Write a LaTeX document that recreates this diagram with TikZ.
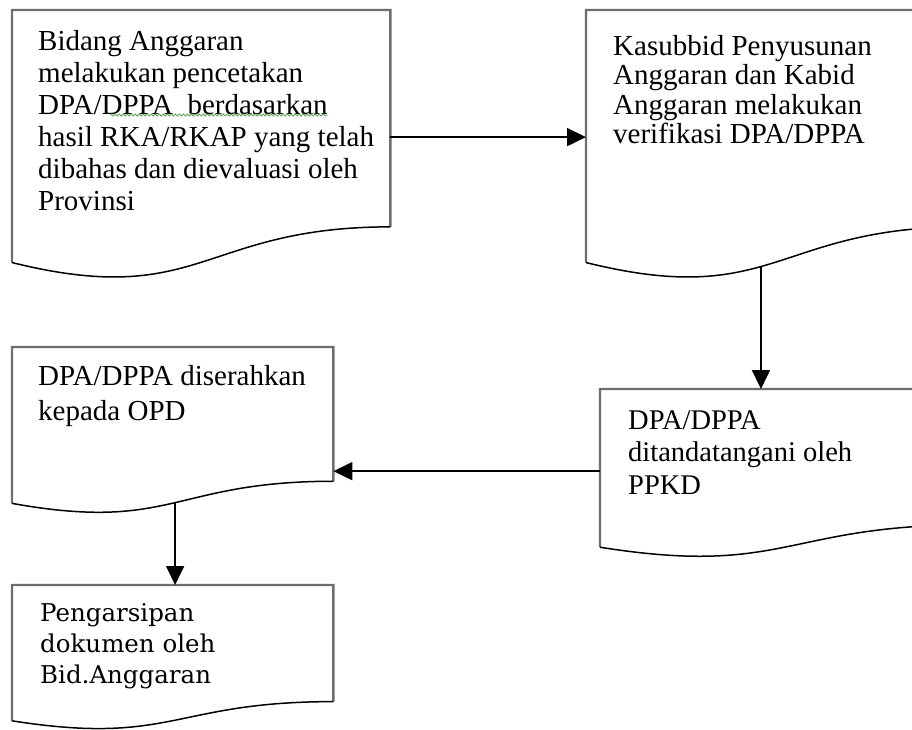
\documentclass[tikz,border=0pt]{standalone}
\usepackage{fontspec}
\setmainfont{Liberation Serif}
\newfontfamily\wideserif{DejaVu Serif}
\usetikzlibrary{arrows.meta,calc,decorations.pathmorphing}
\definecolor{edgegray}{RGB}{110,110,110}
\definecolor{spellgreen}{RGB}{90,170,90}
\tikzset{
  docbox/.style={draw=none,rectangle,inner sep=0pt,anchor=north west},
  boxline/.style={draw=edgegray,line width=2.4pt,line join=miter},
  waveline/.style={draw=black,line width=1.5pt},
  arr/.style={draw=black,line width=1.8pt,-{Triangle[length=19pt,width=18pt]}},
  txt/.style={anchor=north west,inner sep=0pt,align=left,text=black},
}
\newcommand\docpath[2]{% node name, pos of named wave coordinate
  \draw[boxline] ($(#1.south east)!0.198!(#1.north east)$) -- (#1.north east) -- (#1.north west) -- ($(#1.north west)!0.934!(#1.south west)$);
  \draw[waveline] ($(#1.south east)!0.198!(#1.north east)$) .. controls ($(#1.south)!0.198!(#1.north)$) and ($(#1.south)!-0.1075!(#1.north)$) .. coordinate[pos=#2] (#1w) ($(#1.north west)!0.934!(#1.south west)$);
}
\begin{document}
\begin{tikzpicture}[x=1pt,y=-1pt]
\clip (0,0) rectangle (912,729);
\fill[white] (0,0) rectangle (912,729);

% boxes (document shapes)
\node[docbox,minimum width=378pt,minimum height=270pt] (b1) at (12,10) {};
\node[docbox,minimum width=378pt,minimum height=270pt] (b2) at (586,10) {};
\node[docbox,minimum width=370pt,minimum height=169pt] (b3) at (600,389) {};
\node[docbox,minimum width=321pt,minimum height=167pt] (b4) at (12,347) {};
\node[docbox,minimum width=321pt,minimum height=145pt] (b5) at (12,585) {};

\docpath{b1}{0.5}
\docpath{b2}{0.55}
\docpath{b3}{0.5}
\docpath{b4}{0.49}
\docpath{b5}{0.5}

% texts
\node[txt,font=\fontsize{29}{32}\selectfont] (t1) at (38,30)
  {Bidang Anggaran\\melakukan pencetakan\\DPA/DPPA\ \ berdasarkan\\hasil RKA/RKAP yang telah\\dibahas dan dievaluasi oleh\\Provinsi};
\node[txt,font=\fontsize{29}{29.5}\selectfont] (t2) at (613,35)
  {Kasubbid Penyusunan\\Anggaran dan Kabid\\Anggaran melakukan\\verifikasi DPA/DPPA};
\node[txt,font=\fontsize{28.5}{32.5}\selectfont] (t3) at (628,410)
  {DPA/DPPA\\ditandatangani oleh\\PPKD};
\node[txt,font=\fontsize{29}{35}\selectfont] (t4) at (38,365)
  {DPA/DPPA diserahkan\\kepada OPD};
\node[txt,font=\wideserif\fontsize{24.5}{31}\selectfont] (t5) at (40,603)
  {Pengarsipan\\dokumen oleh\\Bid.Anggaran};

% spell-check squiggle
\draw[spellgreen,line width=0.8pt,decorate,decoration={snake,amplitude=1pt,segment length=4pt}] (110,115) -- (328,115);

% connectors
\draw[arr] ($(b1.north east)!0.47!(b1.south east)$) coordinate (a1) -- (a1 -| b2.west);
\draw[arr] (b2w) -- (b2w |- b3.north);
\draw[arr] ($(b3.north west)!0.485!(b3.south west)$) coordinate (a3) -- (a3 -| b4.east);
\draw[arr] (b4w) -- (b4w |- b5.north);
\end{tikzpicture}
\end{document}
